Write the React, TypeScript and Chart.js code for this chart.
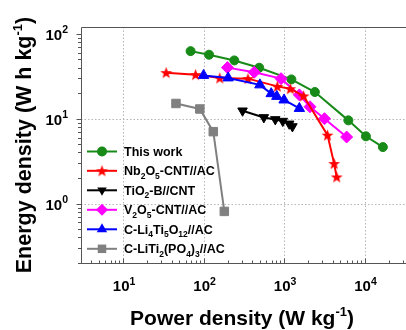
import React, { useEffect, useRef } from 'react';
import { Chart, registerables } from 'chart.js';

Chart.register(...registerables);

const FONT = '"Liberation Sans", Arial, Helvetica, sans-serif';

// ---- data ----
const thisWorkP = [69, 117, 241, 491, 1233, 2415, 6290, 10400, 16900];
const thisWorkE = [62.4, 56.6, 48.5, 39.8, 29, 20.6, 9.55, 6.2, 4.63];
const nbP = [34.3, 79.6, 159, 356, 824, 1194, 1750, 3470, 4190, 4510];
const nbE = [34.8, 33, 30.1, 29.6, 24, 22.5, 18.5, 6.4, 2.96, 2.06];
const tioP = [305, 561, 778, 964, 1159, 1270];
const tioE = [12.4, 10.35, 9.8, 9.37, 8.7, 8.1];
const vP = [198, 426, 918, 1550, 2100, 3180, 5990];
const vE = [39.9, 35.2, 29.6, 19.05, 13.8, 10, 6.08];
const ltoP = [100, 202, 501, 692, 813, 1000, 1550];
const ltoE = [32.3, 30.2, 25, 19.7, 18.3, 16.6, 13.2];
const ltpP = [45.4, 89.8, 132, 181];
const ltpE = [15.1, 13.0, 7.03, 0.81];

const xTickValues = [10, 100, 1000, 10000];
const xTickExp = ['1', '2', '3', '4'];
const yTickValues = [1, 10, 100];
const yTickExp = ['0', '1', '2'];

type Part = { t: string; s?: 'sub' | 'sup' };

const seriesLabels: Part[][] = [
  [{ t: 'This work' }],
  [{ t: 'Nb' }, { t: '2', s: 'sub' }, { t: 'O' }, { t: '5', s: 'sub' }, { t: '-CNT//AC' }],
  [{ t: 'TiO' }, { t: '2', s: 'sub' }, { t: '-B//CNT' }],
  [{ t: 'V' }, { t: '2', s: 'sub' }, { t: 'O' }, { t: '5', s: 'sub' }, { t: '-CNT//AC' }],
  [{ t: 'C-Li' }, { t: '4', s: 'sub' }, { t: 'Ti' }, { t: '5', s: 'sub' }, { t: 'O' }, { t: '12', s: 'sub' }, { t: '//AC' }],
  [{ t: 'C-LiTi' }, { t: '2', s: 'sub' }, { t: '(PO' }, { t: '4', s: 'sub' }, { t: ')' }, { t: '3', s: 'sub' }, { t: '//AC' }],
];
const seriesColors = ['#178a17', '#ff0000', '#000000', '#ff00ff', '#0000ff', '#808080'];
const seriesMarkers = ['circle', 'star', 'down', 'diamond', 'triangle', 'square'];

function zip(xs: number[], ys: number[]) {
  return xs.map((x, i) => ({ x, y: ys[i] }));
}

function makeStar(color: string, R: number, r: number) {
  const c = document.createElement('canvas');
  const size = Math.ceil(R * 2 + 2);
  c.width = size;
  c.height = size;
  const g = c.getContext('2d')!;
  g.translate(size / 2, size / 2 + 0.5);
  g.beginPath();
  for (let i = 0; i < 10; i++) {
    const rad = i % 2 === 0 ? R : r;
    const a = -Math.PI / 2 + (i * Math.PI) / 5;
    g.lineTo(rad * Math.cos(a), rad * Math.sin(a));
  }
  g.closePath();
  g.fillStyle = color;
  g.fill();
  return c;
}

function partsWidth(ctx: CanvasRenderingContext2D, parts: Part[], size: number, small: number) {
  let w = 0;
  for (const p of parts) {
    ctx.font = `bold ${p.s ? small : size}px ${FONT}`;
    w += ctx.measureText(p.t).width;
  }
  return w;
}

function drawParts(
  ctx: CanvasRenderingContext2D,
  parts: Part[],
  x: number,
  y: number,
  size: number,
  small: number,
  align: 'left' | 'center' | 'right',
  color: string,
  subShift: number,
  supShift: number
) {
  const w = partsWidth(ctx, parts, size, small);
  let cx = align === 'left' ? x : align === 'center' ? x - w / 2 : x - w;
  ctx.save();
  ctx.fillStyle = color;
  ctx.textAlign = 'left';
  ctx.textBaseline = 'alphabetic';
  for (const p of parts) {
    ctx.font = `bold ${p.s ? small : size}px ${FONT}`;
    const dy = p.s === 'sub' ? subShift : p.s === 'sup' ? -supShift : 0;
    ctx.fillText(p.t, cx, y + dy);
    cx += ctx.measureText(p.t).width;
  }
  ctx.restore();
}

function drawMarker(ctx: CanvasRenderingContext2D, kind: string, x: number, y: number, color: string, star: HTMLCanvasElement) {
  ctx.save();
  ctx.fillStyle = color;
  ctx.strokeStyle = color;
  ctx.beginPath();
  if (kind === 'circle') {
    ctx.arc(x, y, 5, 0, Math.PI * 2);
    ctx.fill();
  } else if (kind === 'star') {
    ctx.drawImage(star, x - star.width / 2, y - star.height / 2);
  } else if (kind === 'down') {
    const r = 5.5;
    ctx.moveTo(x - r * 0.866, y - r * 0.5);
    ctx.lineTo(x + r * 0.866, y - r * 0.5);
    ctx.lineTo(x, y + r);
    ctx.closePath();
    ctx.fill();
  } else if (kind === 'diamond') {
    const r = 6;
    ctx.moveTo(x, y - r);
    ctx.lineTo(x + r, y);
    ctx.lineTo(x, y + r);
    ctx.lineTo(x - r, y);
    ctx.closePath();
    ctx.fill();
  } else if (kind === 'triangle') {
    const r = 6;
    ctx.moveTo(x, y - r);
    ctx.lineTo(x + r * 0.866, y + r * 0.5);
    ctx.lineTo(x - r * 0.866, y + r * 0.5);
    ctx.closePath();
    ctx.fill();
  } else {
    ctx.fillRect(x - 4.25, y - 4.25, 8.5, 8.5);
  }
  ctx.restore();
}

export default function App() {
  const ref = useRef<HTMLCanvasElement>(null);

  useEffect(() => {
    const canvas = ref.current!;
    const redStar = makeStar('#ff0000', 6.2, 2.6);

    const decorations = {
      id: 'decorations',
      beforeDatasetsDraw(chart: any) {
        const { ctx, chartArea: a, scales } = chart;
        const xs = scales.x;
        const ys = scales.y;
        ctx.save();
        ctx.strokeStyle = '#b5b5b5';
        ctx.lineWidth = 1;
        ctx.setLineDash([1.5, 2]);
        for (const v of xTickValues) {
          const px = Math.round(xs.getPixelForValue(v)) + 0.5;
          ctx.beginPath();
          ctx.moveTo(px, a.top);
          ctx.lineTo(px, a.bottom);
          ctx.stroke();
        }
        for (const v of [1, 10]) {
          const py = Math.round(ys.getPixelForValue(v)) + 0.5;
          ctx.beginPath();
          ctx.moveTo(a.left, py);
          ctx.lineTo(a.right, py);
          ctx.stroke();
        }
        ctx.restore();
      },
      afterDatasetsDraw(chart: any) {
        const { ctx, chartArea: a, scales } = chart;
        const xs = scales.x;
        const ys = scales.y;
        ctx.save();
        ctx.strokeStyle = '#555555';
        ctx.lineWidth = 1;
        ctx.setLineDash([]);
        const L = Math.round(a.left) + 0.5;
        const B = Math.round(a.bottom) + 0.5;
        const T = Math.round(a.top) + 0.5;
        ctx.beginPath();
        ctx.moveTo(L, T);
        ctx.lineTo(L, B);
        ctx.lineTo(a.right + 2, B);
        ctx.moveTo(L, T);
        ctx.lineTo(a.right + 2, T);
        ctx.stroke();
        // y ticks (outward)
        for (let n = -1; n <= 2; n++) {
          for (let k = 1; k <= 9; k++) {
            const v = k * Math.pow(10, n);
            if (v < ys.min || v > ys.max) continue;
            const py = Math.round(ys.getPixelForValue(v)) + 0.5;
            const len = k === 1 ? 5 : 3.5;
            ctx.beginPath();
            ctx.moveTo(L - len, py);
            ctx.lineTo(L, py);
            ctx.stroke();
          }
        }
        // x ticks (inward)
        for (let n = 0; n <= 4; n++) {
          for (let k = 1; k <= 9; k++) {
            const v = k * Math.pow(10, n);
            if (v < xs.min || v > xs.max) continue;
            const px = Math.round(xs.getPixelForValue(v)) + 0.5;
            const len = k === 1 ? 5 : 3;
            ctx.beginPath();
            ctx.moveTo(px, B - len);
            ctx.lineTo(px, B);
            ctx.stroke();
          }
        }
        ctx.restore();
      },
      afterDraw(chart: any) {
        const { ctx, scales } = chart;
        const xs = scales.x;
        const ys = scales.y;
        // y tick labels
        yTickValues.forEach((v, i) => {
          const py = ys.getPixelForValue(v);
          drawParts(ctx, [{ t: '10' }, { t: yTickExp[i], s: 'sup' }], 68, py + 6, 15, 10.5, 'right', '#000', 0, 6.5);
        });
        // x tick labels
        xTickValues.forEach((v, i) => {
          const px = xs.getPixelForValue(v);
          drawParts(ctx, [{ t: '10' }, { t: xTickExp[i], s: 'sup' }], px + 1, 291, 15, 10.5, 'center', '#000', 0, 6.5);
        });
        // x title
        drawParts(
          ctx,
          [{ t: 'Power density (W kg' }, { t: '-1', s: 'sup' }, { t: ')' }],
          242,
          325,
          21,
          13,
          'center',
          '#000',
          0,
          9
        );
        // y title
        ctx.save();
        ctx.translate(31, 145);
        ctx.rotate(-Math.PI / 2);
        drawParts(
          ctx,
          [{ t: 'Energy density (W h kg' }, { t: '-1', s: 'sup' }, { t: ')' }],
          0,
          0,
          21.5,
          13,
          'center',
          '#000',
          0,
          9
        );
        ctx.restore();
        // legend
        const rows = [151.5, 170.8, 190.3, 209.8, 229.3, 248.8];
        seriesLabels.forEach((parts, i) => {
          const y = rows[i];
          const color = seriesColors[i];
          ctx.save();
          ctx.strokeStyle = color;
          ctx.lineWidth = 2;
          ctx.beginPath();
          ctx.moveTo(87, y);
          ctx.lineTo(117, y);
          ctx.stroke();
          ctx.restore();
          drawMarker(ctx, seriesMarkers[i], 102, y, color, redStar);
          drawParts(ctx, parts, 124, y + 4.5, 12.5, 8.5, 'left', '#000', 3.5, 0);
        });
      },
    };

    const base = {
      showLine: true,
      borderWidth: 2,
      pointBorderWidth: 1,
    };

    const chart = new Chart(canvas, {
      type: 'scatter',
      data: {
        datasets: [
          {
            ...base,
            data: zip(ltpP, ltpE),
            borderColor: seriesColors[5],
            backgroundColor: seriesColors[5],
            pointStyle: 'rect',
            pointRadius: 6,
          },
          {
            ...base,
            data: zip(tioP, tioE),
            borderColor: seriesColors[2],
            backgroundColor: seriesColors[2],
            pointStyle: 'triangle',
            rotation: 180,
            pointRadius: 5.5,
          },
          {
            ...base,
            data: zip(ltoP, ltoE),
            borderColor: seriesColors[4],
            backgroundColor: seriesColors[4],
            pointStyle: 'triangle',
            pointRadius: 6,
          },
          {
            ...base,
            data: zip(nbP, nbE),
            borderColor: seriesColors[1],
            backgroundColor: seriesColors[1],
            pointStyle: redStar as any,
            pointRadius: 6,
          },
          {
            ...base,
            data: zip(vP, vE),
            borderColor: seriesColors[3],
            backgroundColor: seriesColors[3],
            pointStyle: 'rectRot',
            pointRadius: 6,
          },
          {
            ...base,
            data: zip(thisWorkP, thisWorkE),
            borderColor: seriesColors[0],
            backgroundColor: seriesColors[0],
            pointStyle: 'circle',
            pointRadius: 4.5,
          },
        ],
      },
      options: {
        responsive: false,
        animation: false,
        devicePixelRatio: 1,
        layout: { padding: { left: 81, top: 27, right: 4, bottom: 67 } },
        plugins: { legend: { display: false }, tooltip: { enabled: false } },
        scales: {
          x: { type: 'logarithmic', min: 3, max: 40000, display: false },
          y: { type: 'logarithmic', min: 0.2, max: 120, display: false },
        },
      },
      plugins: [decorations],
    });
    return () => chart.destroy();
  }, []);

  return (
    <div
      style={{
        position: 'fixed',
        left: 0,
        top: 0,
        width: 406,
        height: 330,
        overflow: 'hidden',
        background: '#fff',
      }}
    >
      <canvas ref={ref} width={420} height={330} style={{ width: 420, height: 330, display: 'block' }} />
    </div>
  );
}
